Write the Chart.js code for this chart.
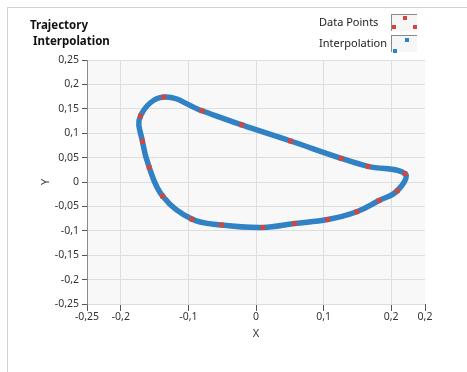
<!DOCTYPE html>
<html>
<head>
<meta charset="utf-8">
<script src="https://cdn.jsdelivr.net/npm/chart.js@4.4.0/dist/chart.umd.min.js"></script>
<style>
  html, body { margin: 0; padding: 0; background: #fff; }
  body { width: 467px; height: 372px; position: relative; overflow: hidden; font-family: "Noto Sans", sans-serif; color: #222; }
  #frame { position: absolute; left: 7px; top: 7px; right: -2px; bottom: -2px; border-top: 1px solid #d2d2d2; border-left: 1px solid #d2d2d2; }
  #wrap { position: absolute; left: 0; top: 0; width: 467px; height: 372px; }
  .title { position: absolute; left: 30px; top: 17px; font-weight: bold; font-size: 11.5px; line-height: 16px; color: #111; }
  .title span { display: block; }
  .title span + span { padding-left: 3px; }
  .legend-row { position: absolute; left: 319px; font-size: 11px; line-height: 14px; color: #222; }
  .icon { position: absolute; left: 391px; width: 25px; height: 16px; border-top: 1px solid #8a8a8a; border-left: 1px solid #8a8a8a; background: #f6f6f6; }
  .icon i { position: absolute; width: 4px; height: 4px; }
  .red i { background: #d6453a; }
  .blue i { background: #3182c4; }
</style>
</head>
<body>
<div id="frame"></div>
<div id="wrap"><canvas id="chart" width="467" height="372"></canvas></div>
<div class="title"><span>Trajectory</span><span>Interpolation</span></div>
<div class="legend-row" style="top:15px">Data Points</div>
<div class="icon red" style="top:14px"><i style="left:11px;top:1px"></i><i style="left:0px;top:10px"></i><i style="left:21px;top:10px"></i></div>
<div class="legend-row" style="top:36px">Interpolation</div>
<div class="icon blue" style="top:35px"><i style="left:13px;top:2px"></i><i style="left:1px;top:13px"></i></div>
<script>
// axis ticks
const xTickValues = [-0.25, -0.2, -0.1, 0, 0.1, 0.2, 0.25];
const xTickLabels = ['-0,25', '-0,2', '-0,1', '0', '0,1', '0,2', '0,2'];
const yTickValues = [-0.25, -0.2, -0.15, -0.1, -0.05, 0, 0.05, 0.1, 0.15, 0.2, 0.25];
const yTickLabels = ['-0,25', '-0,2', '-0,15', '-0,1', '-0,05', '0', '0,05', '0,1', '0,15', '0,2', '0,25'];

// data points, clockwise from the top
const pointX = [-0.1365, -0.080, -0.021, 0.051, 0.126, 0.166, 0.2205, 0.209, 0.182, 0.149, 0.106, 0.057, 0.010, -0.051, -0.095, -0.138, -0.158, -0.168, -0.171];
const pointY = [0.174, 0.146, 0.117, 0.084, 0.0485, 0.032, 0.017, -0.018, -0.038, -0.061, -0.077, -0.085, -0.093, -0.088, -0.076, -0.029, 0.030, 0.083, 0.135];

const RED = '#d6453a';
const BLUE = '#3182c4';

const points = pointX.map((x, i) => ({ x, y: pointY[i] }));

// closed curve: wrap around so every drawn segment has both neighbours
const n = points.length;
const loop = [points[n - 1], ...points, points[0], points[1]];
const lastIdx = loop.length - 1;

const plotBg = {
    id: 'plotBg',
    beforeDraw(chart) {
        const { ctx, chartArea: a } = chart;
        ctx.save();
        ctx.fillStyle = '#f8f8f8';
        ctx.fillRect(a.left, a.top, a.right - a.left, a.bottom - a.top);
        ctx.restore();
    }
};

const tickFont = { family: 'Noto Sans', size: 10.5 };

new Chart(document.getElementById('chart'), {
    type: 'scatter',
    data: {
        datasets: [
            {
                label: 'Data Points',
                data: points,
                pointStyle: 'rect',
                pointRadius: 3.4,
                pointBackgroundColor: RED,
                pointBorderWidth: 0,
                showLine: false
            },
            {
                type: 'line',
                label: 'Interpolation',
                data: loop,
                borderColor: BLUE,
                borderWidth: 5.5,
                borderJoinStyle: 'round',
                borderCapStyle: 'round',
                tension: 0.4,
                pointRadius: 0,
                fill: false,
                segment: {
                    borderColor: c => (c.p0DataIndex === 0 || c.p1DataIndex === lastIdx) ? 'rgba(0,0,0,0)' : BLUE
                }
            }
        ]
    },
    options: {
        responsive: false,
        animation: false,
        events: [],
        layout: { padding: { left: 0, top: 60, right: 42, bottom: 0 } },
        plugins: { legend: { display: false }, tooltip: { enabled: false } },
        scales: {
            x: {
                type: 'linear',
                min: -0.25,
                max: 0.25,
                afterBuildTicks: s => { s.ticks = xTickValues.map(v => ({ value: v })); },
                afterFit: s => { s.height = 68; },
                ticks: {
                    autoSkip: false,
                    maxRotation: 0,
                    padding: 0,
                    color: '#333',
                    font: tickFont,
                    callback: (v, i) => xTickLabels[i]
                },
                grid: {
                    color: c => (c.tick && Math.abs(c.tick.value) > 0.24) ? 'rgba(0,0,0,0)' : '#dedede',
                    tickColor: '#555',
                    tickLength: 7
                },
                border: { display: false },
                title: { display: true, text: 'X', color: '#333', font: { family: 'Noto Sans', size: 11 }, padding: { top: 0, bottom: 32 } }
            },
            y: {
                type: 'linear',
                min: -0.25,
                max: 0.25,
                afterBuildTicks: s => { s.ticks = yTickValues.map(v => ({ value: v })); },
                afterFit: s => { s.width = 87; },
                ticks: {
                    autoSkip: false,
                    padding: 3,
                    color: '#333',
                    font: tickFont,
                    callback: (v, i) => yTickLabels[i]
                },
                grid: {
                    color: '#dedede',
                    tickColor: '#555',
                    tickLength: 5
                },
                border: { color: '#8c8c8c', width: 1 },
                title: { display: true, text: 'Y', color: '#333', font: { family: 'Noto Sans', size: 11 }, padding: { top: 39, bottom: 0 } }
            }
        }
    },
    plugins: [plotBg]
});
</script>
</body>
</html>
